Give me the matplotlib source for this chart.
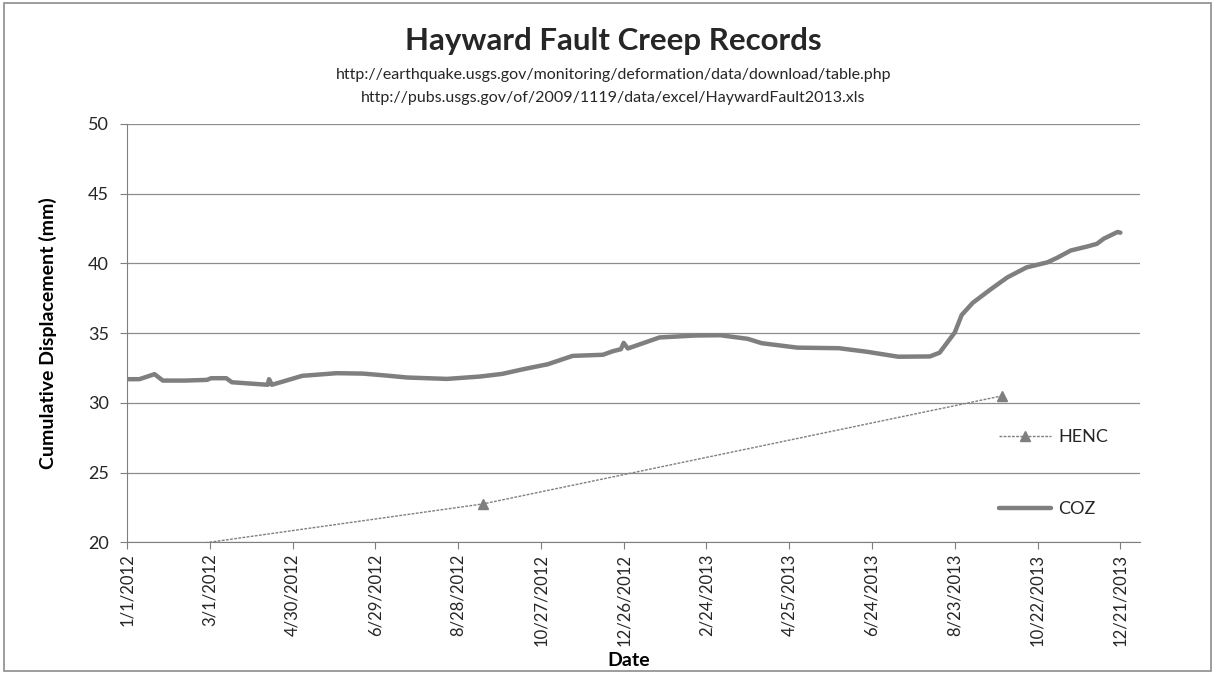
import datetime as dt
import matplotlib
matplotlib.use('Agg')
import matplotlib.pyplot as plt
import matplotlib.dates as mdates
from matplotlib.patches import Rectangle

# Data COZ (tanggal, perpindahan kumulatif mm)
coz_dates = ['2012-01-01', '2012-01-10', '2012-01-21', '2012-01-27', '2012-02-12',
             '2012-02-28', '2012-03-02', '2012-03-13', '2012-03-17', '2012-04-06',
             '2012-04-12', '2012-04-13', '2012-04-15', '2012-04-23', '2012-05-07',
             '2012-06-01', '2012-06-20', '2012-07-07', '2012-07-22', '2012-08-20',
             '2012-09-13', '2012-09-29', '2012-10-14', '2012-11-01', '2012-11-19',
             '2012-12-11', '2012-12-18', '2012-12-24', '2012-12-26', '2012-12-29',
             '2013-01-21', '2013-02-16', '2013-03-06', '2013-03-26', '2013-04-05',
             '2013-05-01', '2013-05-31', '2013-06-20', '2013-07-13', '2013-08-05',
             '2013-08-12', '2013-08-23', '2013-08-28', '2013-09-05', '2013-09-18',
             '2013-09-30', '2013-10-14', '2013-10-29', '2013-11-05', '2013-11-15',
             '2013-11-27', '2013-12-04', '2013-12-09', '2013-12-19', '2013-12-21']
coz_values = [31.70, 31.70, 32.06, 31.60, 31.60,
              31.65, 31.77, 31.77, 31.48, 31.34,
              31.30, 31.70, 31.30, 31.53, 31.94,
              32.13, 32.10, 31.96, 31.82, 31.72,
              31.89, 32.08, 32.41, 32.77, 33.37,
              33.45, 33.70, 33.85, 34.30, 33.90,
              34.69, 34.83, 34.85, 34.59, 34.28,
              33.96, 33.92, 33.67, 33.31, 33.33,
              33.60, 35.05, 36.30, 37.17, 38.14,
              38.99, 39.71, 40.07, 40.39, 40.92,
              41.21, 41.40, 41.77, 42.25, 42.20]

# Data HENC (titik pertama di luar rentang sumbu)
henc_dates = ['2011-09-23', '2012-09-15', '2013-09-26']
henc_values = [17.8, 22.76, 30.5]

# Label sumbu
title = 'Hayward Fault Creep Records'
subtitle_lines = ['http://earthquake.usgs.gov/monitoring/deformation/data/download/table.php',
                  'http://pubs.usgs.gov/of/2009/1119/data/excel/HaywardFault2013.xls']
y_ticks = [20, 25, 30, 35, 40, 45, 50]
x_start = '2012-01-01'
x_end = '2014-01-04'
tick_step_days = 60
n_ticks = 13


def to_dates(strings):
    return [dt.datetime.strptime(s, '%Y-%m-%d') for s in strings]


def main():
    plt.rcParams['font.family'] = ['Lato', 'DejaVu Sans']
    grey = '#7f7f7f'
    text_col = '#262626'

    fig = plt.figure(figsize=(12.15, 6.73), dpi=100)
    ax = fig.add_axes([0.1045, 0.194, 0.8335, 0.622])

    # Garis data
    ax.plot(to_dates(henc_dates), henc_values, color=grey, lw=1.0,
            linestyle=(0, (2, 1)), marker='^', markersize=7, label='HENC')
    ax.plot(to_dates(coz_dates), coz_values, color=grey, lw=3.2,
            solid_capstyle='round', solid_joinstyle='round', label='COZ')

    # Sumbu y
    ax.set_ylim(20, 50)
    ax.set_yticks(y_ticks)
    ax.yaxis.grid(True, color='#8c8c8c', lw=0.9)
    ax.set_axisbelow(True)
    ax.set_ylabel('Cumulative Displacement (mm)', fontsize=14, fontweight='bold',
                  color='#000000', labelpad=22)

    # Sumbu x (tanggal)
    start = dt.datetime.strptime(x_start, '%Y-%m-%d')
    ax.set_xlim(start, dt.datetime.strptime(x_end, '%Y-%m-%d'))
    ticks = [start + dt.timedelta(days=tick_step_days * i) for i in range(n_ticks)]
    ax.set_xticks(mdates.date2num(ticks))
    ax.set_xticklabels([f'{d.month}/{d.day}/{d.year}' for d in ticks], rotation=90)
    ax.set_xlabel('Date', fontsize=14, fontweight='bold')
    ax.xaxis.set_label_coords(0.495, -0.262)

    ax.tick_params(axis='y', labelsize=13, colors=grey, labelcolor=text_col,
                   length=5, pad=8)
    ax.tick_params(axis='x', labelsize=12, colors=grey, labelcolor=text_col,
                   length=5, pad=3)
    for side in ['top', 'right']:
        ax.spines[side].set_visible(False)
    for side in ['left', 'bottom']:
        ax.spines[side].set_color(grey)

    # Judul dan sumber
    fig.text(0.505, 0.925, title, ha='center', va='baseline', fontsize=22.5,
             fontweight='bold', color=text_col)
    fig.text(0.505, 0.882, subtitle_lines[0], ha='center', va='baseline',
             fontsize=11.5, color=text_col)
    fig.text(0.505, 0.849, subtitle_lines[1], ha='center', va='baseline',
             fontsize=11.5, color=text_col)

    # Legenda
    handles, labels = ax.get_legend_handles_labels()
    ax.legend(handles, labels, loc='upper left', bbox_to_anchor=(0.822, 0.362),
              bbox_transform=fig.transFigure, frameon=False, borderpad=0,
              borderaxespad=0, fontsize=13, labelspacing=3.1, handlelength=2.9,
              handletextpad=0.4, labelcolor=text_col)

    # Bingkai area grafik
    fig.patches.append(Rectangle((0.003, 0.003), 0.994, 0.992, transform=fig.transFigure,
                                 fill=False, edgecolor='#8c8c8c', lw=1.2))

    fig.savefig('out.png', dpi=100)


if __name__ == "__main__":
    main()
